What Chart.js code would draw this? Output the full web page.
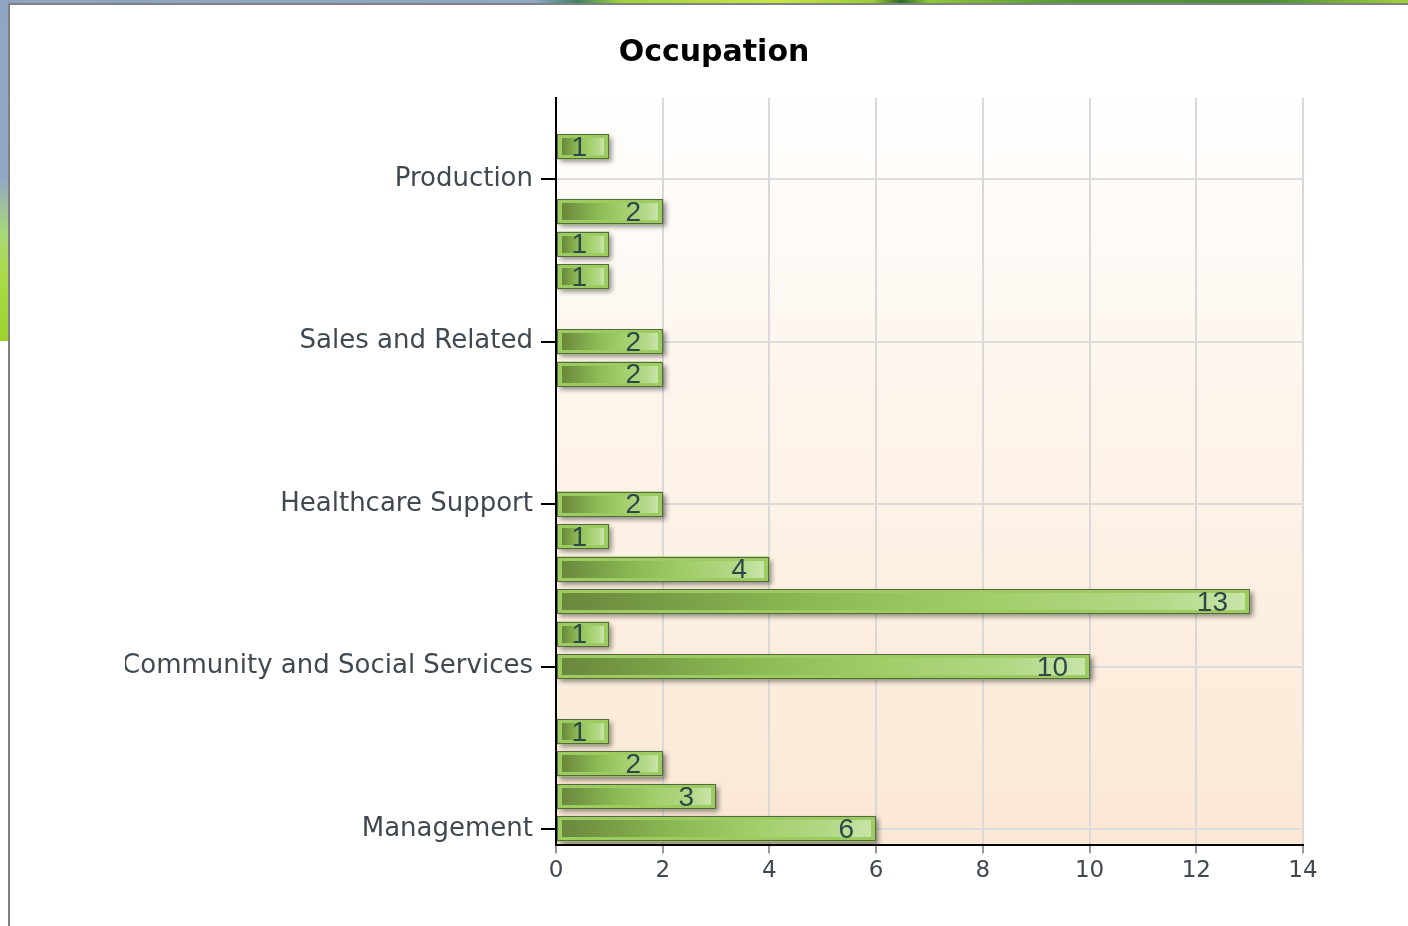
<!DOCTYPE html>
<html>
<head>
<meta charset="utf-8">
<title>Occupation</title>
<script src="https://cdn.jsdelivr.net/npm/chart.js@4.4.1/dist/chart.umd.min.js"></script>
<style>
  html, body { margin: 0; padding: 0; background: #fff; }
  body { width: 1408px; height: 926px; position: relative; overflow: hidden; }
  #topstrip {
    position: absolute; left: 0; top: 0; width: 1408px; height: 3px;
    background: linear-gradient(to right, #8ba2c2 0%, #8ea7c6 38%, #3f7f6a 41%, #9fd23c 44%,
      #c8e64a 55%, #98cc34 62%, #2f6a2a 64%, #8cc83a 66%, #5a9a3c 75%, #4c8c3a 90%, #9fd23c 100%);
  }
  #leftstrip {
    position: absolute; left: 0; top: 0; width: 8px; height: 341px;
    background: linear-gradient(to bottom, #8ea6c4 0%, #8fa8c6 52%, #a8d87a 68%, #a9dc48 80%, #9ad22c 100%);
  }
  #frame {
    position: absolute; left: 8px; top: 3px; width: 1400px; height: 923px; box-sizing: border-box;
    border-left: 2px solid #828282; border-top: 2px solid #828282; background: #fff;
  }
  #wrap { position: absolute; left: 10px; top: 5px; width: 1398px; height: 921px; }
</style>
</head>
<body>
<div id="topstrip"></div>
<div id="leftstrip"></div>
<div id="frame"></div>
<div id="wrap"><canvas id="chart-occupation"></canvas></div>

<script>
// ── Data (top to bottom, only every 5th row is labelled) ──────────────────

const categories = [
  "", "", "Production", "", "", "", "",
  "Sales and Related", "", "", "", "",
  "Healthcare Support", "", "", "", "",
  "Community and Social Services", "", "", "", "",
  "Management"
];

const occupationCounts = [
  null, 1, null, 2, 1, 1, null,
  2, 2, null, null, null,
  2, 1, 4, 13, 1,
  10, null, 1, 2, 3,
  6
];

const xMin = 0;
const xMax = 14;
const xStep = 2;

// ── Bar styling plugin ────────────────────────────────────────────────────

const barDecor = {
  id: "barDecor",
  beforeDraw(chart) {
    const { ctx, chartArea: a } = chart;
    const g = ctx.createLinearGradient(0, a.top, 0, a.bottom);
    g.addColorStop(0, "#fffefd");
    g.addColorStop(1, "#fbe8d4");
    ctx.save();
    ctx.fillStyle = g;
    ctx.fillRect(a.left, a.top, a.width, a.height);
    ctx.restore();
  },
  beforeDatasetDraw(chart) {
    const ctx = chart.ctx;
    ctx.save();
    ctx.shadowColor = "rgba(0,0,0,0.45)";
    ctx.shadowBlur = 5;
    ctx.shadowOffsetX = 3;
    ctx.shadowOffsetY = 3;
  },
  afterDatasetDraw(chart, args) {
    const ctx = chart.ctx;
    ctx.restore();
    ctx.save();
    args.meta.data.forEach((bar, i) => {
      const v = occupationCounts[i];
      if (v == null) return;
      const { x, y, base, height } = bar.getProps(["x", "y", "base", "height"], true);
      const left = Math.round(base);
      const right = Math.round(x);
      const top = Math.round(y - height / 2);
      const bottom = top + Math.round(height);
      const w = right - left;

      // inner shaded panel
      const g = ctx.createLinearGradient(left + 5, 0, right - 5, 0);
      g.addColorStop(0, "#6a883c");
      g.addColorStop(0.35, "#8ab853");
      g.addColorStop(0.62, "#a2ce6a");
      g.addColorStop(0.86, "#b2d886");
      g.addColorStop(1, "#c8e5a9");
      ctx.fillStyle = g;
      ctx.fillRect(left + 5, top + 4, w - 10, bottom - top - 8);

      // outline
      ctx.strokeStyle = "#56683f";
      ctx.lineWidth = 1;
      ctx.strokeRect(left + 0.5, top + 0.5, w - 1, bottom - top - 1);

      // value label
      ctx.font = '28px "Liberation Sans"';
      ctx.fillStyle = "#2e4848";
      ctx.textAlign = "right";
      ctx.textBaseline = "alphabetic";
      ctx.fillText(String(v), right - 22, y + 9);
    });
    ctx.restore();
  }
};

// ── Chart ─────────────────────────────────────────────────────────────────

const labelColor = "#404850";

new Chart(document.getElementById("chart-occupation").getContext("2d"), {
  type: "bar",
  data: {
    labels: categories,
    datasets: [{
      label: "Occupation",
      data: occupationCounts,
      backgroundColor: "#9ccc60",
      borderWidth: 0,
      barPercentage: 0.78,
      categoryPercentage: 1,
    }],
  },
  options: {
    indexAxis: "y",
    responsive: true,
    maintainAspectRatio: false,
    animation: false,
    layout: { padding: { left: 115, right: 105, top: 0, bottom: 37 } },
    plugins: {
      legend: { display: false },
      tooltip: { enabled: false },
      title: {
        display: true,
        text: "Occupation",
        color: "#000",
        font: { family: "DejaVu Sans", size: 30, weight: "bold", lineHeight: 1.2 },
        padding: { top: 30, bottom: 27 },
      },
    },
    scales: {
      x: {
        min: xMin,
        max: xMax,
        ticks: {
          stepSize: xStep,
          color: labelColor,
          padding: 4,
          font: { family: "DejaVu Sans", size: 23 },
        },
        grid: { color: "#d9d9d9", lineWidth: 2, tickLength: 8, tickColor: "#999" },
        border: { color: "#000", width: 2 },
      },
      y: {
        afterFit: scale => { scale.width = 431; },
        ticks: {
          autoSkip: false,
          color: labelColor,
          padding: 8,
          font: { family: "DejaVu Sans", size: 26 },
        },
        grid: {
          offset: false,
          lineWidth: 2,
          tickLength: 15,
          color: c => (categories[c.index] ? "#dcdcdc" : "rgba(0,0,0,0)"),
          tickColor: c => (categories[c.index] ? "#000" : "rgba(0,0,0,0)"),
          tickWidth: 2,
        },
        border: { color: "#000", width: 2 },
      },
    },
  },
  plugins: [barDecor],
});
</script>
</body>
</html>
